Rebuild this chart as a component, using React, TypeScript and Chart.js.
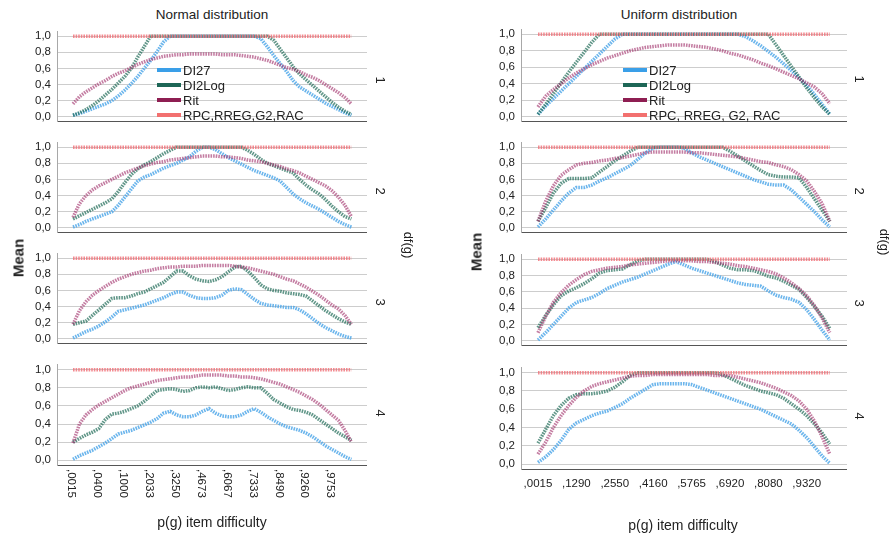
import React, { useEffect, useRef } from "react";
import { Chart, registerables } from "chart.js";

Chart.register(...registerables);

const FONT = "'Liberation Sans', Arial, Helvetica, sans-serif";

// ---- tick labels (p(g) item difficulty) ----
const NORMAL_TICKS = [",0015", ",0400", ",1000", ",2033", ",3250", ",4673", ",6067", ",7333", ",8490", ",9260", ",9753"];
const NORMAL_TICK_STEP = 4;
const UNIFORM_TICKS = [",0015", ",1290", ",2550", ",4160", ",5765", ",6920", ",8080", ",9320"];
const UNIFORM_TICK_STEP = 5;
const Y_TICKS = [0, 0.2, 0.4, 0.6, 0.8, 1.0];
const DF_LABELS = ["1", "2", "3", "4"];

// ---- Normal distribution, mean per item difficulty ----
const N_RPC = [1, 1, 1, 1, 1, 1, 1, 1, 1, 1, 1, 1, 1, 1, 1, 1, 1, 1, 1, 1, 1, 1, 1, 1, 1, 1, 1, 1, 1, 1, 1, 1, 1, 1, 1, 1, 1, 1, 1, 1, 1, 1, 1, 1];

const N1_DI27 = [0.02, 0.04, 0.07, 0.10, 0.13, 0.16, 0.20, 0.26, 0.33, 0.41, 0.50, 0.60, 0.70, 0.81, 0.93, 1.00, 1.00, 1.00, 1.00, 1.00, 1.00, 1.00, 1.00, 1.00, 1.00, 1.00, 1.00, 1.00, 1.00, 0.97, 0.87, 0.76, 0.66, 0.56, 0.45, 0.37, 0.32, 0.27, 0.22, 0.17, 0.13, 0.09, 0.05, 0.02];
const N1_DI2LOG = [0.02, 0.05, 0.09, 0.14, 0.20, 0.27, 0.34, 0.42, 0.50, 0.60, 0.74, 0.87, 1.00, 1.00, 1.00, 1.00, 1.00, 1.00, 1.00, 1.00, 1.00, 1.00, 1.00, 1.00, 1.00, 1.00, 1.00, 1.00, 1.00, 1.00, 1.00, 0.95, 0.84, 0.73, 0.62, 0.53, 0.46, 0.39, 0.32, 0.25, 0.18, 0.12, 0.07, 0.03];
const N1_RIT = [0.16, 0.25, 0.31, 0.36, 0.41, 0.45, 0.50, 0.54, 0.57, 0.61, 0.65, 0.68, 0.71, 0.73, 0.75, 0.76, 0.77, 0.77, 0.78, 0.78, 0.78, 0.78, 0.78, 0.77, 0.77, 0.77, 0.76, 0.75, 0.74, 0.72, 0.70, 0.67, 0.64, 0.61, 0.59, 0.56, 0.52, 0.49, 0.45, 0.40, 0.35, 0.30, 0.24, 0.16];

const N2_DI27 = [0.01, 0.04, 0.08, 0.11, 0.14, 0.17, 0.20, 0.28, 0.38, 0.48, 0.58, 0.63, 0.66, 0.70, 0.74, 0.77, 0.80, 0.84, 0.88, 0.95, 1.00, 1.00, 0.97, 0.92, 0.87, 0.83, 0.79, 0.75, 0.71, 0.68, 0.65, 0.62, 0.58, 0.50, 0.42, 0.36, 0.31, 0.27, 0.23, 0.18, 0.13, 0.08, 0.04, 0.01];
const N2_DI2LOG = [0.11, 0.15, 0.19, 0.23, 0.27, 0.31, 0.36, 0.45, 0.56, 0.66, 0.73, 0.78, 0.82, 0.87, 0.92, 0.96, 1.00, 1.00, 1.00, 1.00, 1.00, 1.00, 1.00, 1.00, 1.00, 1.00, 1.00, 0.96, 0.91, 0.85, 0.80, 0.77, 0.74, 0.71, 0.68, 0.60, 0.53, 0.47, 0.42, 0.35, 0.27, 0.20, 0.14, 0.11];
const N2_RIT = [0.13, 0.30, 0.40, 0.47, 0.52, 0.56, 0.60, 0.64, 0.68, 0.71, 0.74, 0.77, 0.79, 0.81, 0.82, 0.84, 0.85, 0.86, 0.87, 0.88, 0.89, 0.89, 0.89, 0.88, 0.88, 0.87, 0.86, 0.84, 0.83, 0.82, 0.80, 0.78, 0.76, 0.73, 0.71, 0.68, 0.64, 0.60, 0.56, 0.52, 0.46, 0.38, 0.28, 0.14];

const N3_DI27 = [0.01, 0.05, 0.09, 0.12, 0.16, 0.21, 0.27, 0.34, 0.36, 0.38, 0.40, 0.42, 0.45, 0.48, 0.51, 0.55, 0.58, 0.58, 0.54, 0.51, 0.50, 0.50, 0.51, 0.54, 0.60, 0.62, 0.61, 0.55, 0.49, 0.44, 0.42, 0.41, 0.40, 0.39, 0.39, 0.36, 0.31, 0.25, 0.19, 0.14, 0.10, 0.06, 0.03, 0.01];
const N3_DI2LOG = [0.18, 0.20, 0.22, 0.29, 0.36, 0.43, 0.50, 0.51, 0.51, 0.53, 0.56, 0.58, 0.62, 0.66, 0.70, 0.77, 0.84, 0.84, 0.78, 0.74, 0.72, 0.71, 0.73, 0.77, 0.83, 0.89, 0.90, 0.84, 0.76, 0.67, 0.62, 0.60, 0.59, 0.57, 0.56, 0.55, 0.53, 0.47, 0.41, 0.35, 0.30, 0.25, 0.21, 0.18];
const N3_RIT = [0.18, 0.35, 0.46, 0.54, 0.60, 0.65, 0.70, 0.74, 0.77, 0.80, 0.82, 0.84, 0.85, 0.87, 0.88, 0.89, 0.89, 0.90, 0.90, 0.90, 0.91, 0.91, 0.91, 0.91, 0.91, 0.90, 0.89, 0.88, 0.86, 0.84, 0.82, 0.80, 0.77, 0.74, 0.72, 0.68, 0.64, 0.59, 0.54, 0.48, 0.42, 0.37, 0.29, 0.18];

const N4_DI27 = [0.01, 0.05, 0.08, 0.11, 0.15, 0.19, 0.24, 0.29, 0.31, 0.33, 0.36, 0.39, 0.42, 0.46, 0.52, 0.54, 0.50, 0.48, 0.48, 0.50, 0.54, 0.57, 0.52, 0.49, 0.48, 0.48, 0.50, 0.54, 0.57, 0.53, 0.48, 0.44, 0.40, 0.37, 0.35, 0.33, 0.30, 0.26, 0.21, 0.16, 0.12, 0.08, 0.04, 0.01];
const N4_DI2LOG = [0.20, 0.24, 0.28, 0.31, 0.35, 0.45, 0.51, 0.52, 0.54, 0.57, 0.60, 0.65, 0.71, 0.77, 0.78, 0.79, 0.78, 0.76, 0.77, 0.80, 0.81, 0.80, 0.81, 0.79, 0.77, 0.78, 0.80, 0.81, 0.80, 0.80, 0.74, 0.67, 0.63, 0.59, 0.56, 0.55, 0.53, 0.50, 0.45, 0.40, 0.35, 0.30, 0.26, 0.22];
const N4_RIT = [0.19, 0.40, 0.50, 0.56, 0.61, 0.65, 0.69, 0.73, 0.77, 0.80, 0.82, 0.84, 0.86, 0.88, 0.89, 0.90, 0.91, 0.92, 0.92, 0.93, 0.94, 0.94, 0.94, 0.94, 0.93, 0.93, 0.92, 0.92, 0.91, 0.90, 0.88, 0.86, 0.84, 0.81, 0.78, 0.75, 0.71, 0.67, 0.62, 0.56, 0.50, 0.44, 0.33, 0.20];

// ---- Uniform distribution, mean per item difficulty ----
const U_RPC = [1, 1, 1, 1, 1, 1, 1, 1, 1, 1, 1, 1, 1, 1, 1, 1, 1, 1, 1, 1, 1, 1, 1, 1, 1, 1, 1, 1, 1, 1, 1, 1, 1, 1, 1, 1, 1, 1, 1];

const U1_DI27 = [0.03, 0.13, 0.22, 0.31, 0.40, 0.49, 0.58, 0.67, 0.76, 0.85, 0.94, 1.00, 1.00, 1.00, 1.00, 1.00, 1.00, 1.00, 1.00, 1.00, 1.00, 1.00, 1.00, 1.00, 1.00, 1.00, 1.00, 0.97, 0.92, 0.86, 0.79, 0.72, 0.64, 0.56, 0.47, 0.38, 0.27, 0.15, 0.03];
const U1_DI2LOG = [0.03, 0.15, 0.28, 0.41, 0.54, 0.66, 0.78, 0.90, 1.00, 1.00, 1.00, 1.00, 1.00, 1.00, 1.00, 1.00, 1.00, 1.00, 1.00, 1.00, 1.00, 1.00, 1.00, 1.00, 1.00, 1.00, 1.00, 1.00, 1.00, 1.00, 1.00, 0.87, 0.74, 0.61, 0.48, 0.35, 0.23, 0.12, 0.03];
const U1_RIT = [0.12, 0.25, 0.33, 0.40, 0.47, 0.53, 0.58, 0.63, 0.67, 0.71, 0.74, 0.77, 0.80, 0.82, 0.84, 0.85, 0.86, 0.87, 0.87, 0.87, 0.86, 0.85, 0.84, 0.82, 0.80, 0.77, 0.75, 0.72, 0.69, 0.65, 0.62, 0.58, 0.54, 0.50, 0.46, 0.41, 0.36, 0.28, 0.16];

const U2_DI27 = [0.01, 0.11, 0.22, 0.33, 0.43, 0.50, 0.50, 0.53, 0.58, 0.62, 0.67, 0.72, 0.77, 0.85, 0.93, 0.99, 1.00, 1.00, 1.00, 0.99, 0.93, 0.88, 0.84, 0.80, 0.76, 0.72, 0.68, 0.64, 0.60, 0.57, 0.54, 0.53, 0.53, 0.47, 0.38, 0.29, 0.20, 0.10, 0.01];
const U2_DI2LOG = [0.08, 0.25, 0.43, 0.55, 0.61, 0.61, 0.61, 0.62, 0.69, 0.76, 0.83, 0.89, 0.95, 1.00, 1.00, 1.00, 1.00, 1.00, 1.00, 1.00, 1.00, 1.00, 1.00, 1.00, 1.00, 0.95, 0.89, 0.83, 0.77, 0.71, 0.66, 0.64, 0.63, 0.63, 0.62, 0.50, 0.36, 0.22, 0.08];
const U2_RIT = [0.08, 0.33, 0.52, 0.65, 0.72, 0.78, 0.80, 0.81, 0.83, 0.84, 0.86, 0.87, 0.89, 0.91, 0.93, 0.94, 0.94, 0.94, 0.94, 0.94, 0.93, 0.93, 0.92, 0.91, 0.90, 0.89, 0.88, 0.86, 0.84, 0.82, 0.81, 0.78, 0.76, 0.72, 0.66, 0.58, 0.45, 0.30, 0.08];

const U3_DI27 = [0.01, 0.10, 0.20, 0.30, 0.40, 0.47, 0.50, 0.53, 0.58, 0.64, 0.68, 0.72, 0.75, 0.78, 0.82, 0.86, 0.90, 0.94, 0.97, 0.93, 0.89, 0.86, 0.83, 0.80, 0.77, 0.74, 0.71, 0.69, 0.68, 0.67, 0.61, 0.56, 0.53, 0.51, 0.47, 0.38, 0.26, 0.13, 0.01];
const U3_DI2LOG = [0.16, 0.31, 0.44, 0.55, 0.61, 0.65, 0.70, 0.76, 0.83, 0.86, 0.87, 0.88, 0.93, 0.98, 1.00, 1.00, 1.00, 1.00, 1.00, 1.00, 1.00, 1.00, 1.00, 0.97, 0.93, 0.89, 0.87, 0.87, 0.86, 0.83, 0.79, 0.77, 0.73, 0.68, 0.63, 0.53, 0.42, 0.30, 0.15];
const U3_RIT = [0.10, 0.30, 0.47, 0.59, 0.68, 0.75, 0.81, 0.85, 0.87, 0.89, 0.90, 0.91, 0.93, 0.94, 0.95, 0.96, 0.97, 0.98, 0.98, 0.98, 0.98, 0.97, 0.97, 0.96, 0.95, 0.94, 0.92, 0.91, 0.89, 0.87, 0.85, 0.82, 0.77, 0.71, 0.64, 0.55, 0.43, 0.28, 0.10];

const U4_DI27 = [0.02, 0.08, 0.16, 0.26, 0.38, 0.45, 0.49, 0.53, 0.56, 0.58, 0.62, 0.66, 0.72, 0.77, 0.82, 0.87, 0.88, 0.88, 0.88, 0.88, 0.87, 0.84, 0.81, 0.78, 0.75, 0.72, 0.69, 0.66, 0.63, 0.60, 0.56, 0.52, 0.48, 0.44, 0.37, 0.29, 0.19, 0.09, 0.01];
const U4_DI2LOG = [0.23, 0.38, 0.53, 0.64, 0.72, 0.76, 0.77, 0.77, 0.78, 0.80, 0.84, 0.90, 0.97, 1.00, 1.00, 1.00, 1.00, 1.00, 1.00, 1.00, 1.00, 1.00, 1.00, 1.00, 0.98, 0.94, 0.90, 0.86, 0.83, 0.80, 0.78, 0.76, 0.72, 0.66, 0.60, 0.53, 0.44, 0.34, 0.22];
const U4_RIT = [0.11, 0.24, 0.40, 0.53, 0.64, 0.73, 0.80, 0.85, 0.88, 0.90, 0.92, 0.94, 0.96, 0.97, 0.97, 0.98, 0.98, 0.98, 0.98, 0.98, 0.98, 0.98, 0.98, 0.97, 0.97, 0.97, 0.95, 0.93, 0.91, 0.89, 0.86, 0.83, 0.79, 0.75, 0.69, 0.60, 0.47, 0.30, 0.11];

// ---- series appearance ----
const SERIES = [
  { key: "rpc", label: "RPC,RREG,G2,RAC", line: "rgba(240,110,118,0.8)", swatch: "#f2706f" },
  { key: "rit", label: "Rit", line: "rgba(160,45,105,0.62)", swatch: "#8e1e52" },
  { key: "di2log", label: "DI2Log", line: "rgba(35,110,90,0.72)", swatch: "#1d6656" },
  { key: "di27", label: "DI27", line: "rgba(75,165,232,0.82)", swatch: "#3a9fe8" },
];

type Series = { rpc: number[]; rit: number[]; di2log: number[]; di27: number[] };

type SubPlotProps = {
  left: number;
  width: number;
  axisWidth: number;
  oneY: number;
  zeroY: number;
  xMin: number;
  xMax: number;
  series: Series;
  bottomLabels?: { labels: string[]; step: number; rotate: boolean };
};

const PAD_TOP = 8;

function SubPlot(p: SubPlotProps) {
  const ref = useRef<HTMLCanvasElement>(null);
  const span = p.zeroY - p.oneY;
  const areaTop = p.oneY - 5;
  const areaBottom = p.zeroY + 5;
  const padBottom = p.bottomLabels ? 48 : 2;
  const height = PAD_TOP + (areaBottom - areaTop) + padBottom;
  const top = areaTop - PAD_TOP;

  useEffect(() => {
    const labelPlugin = {
      id: "bottomTickLabels",
      afterDraw(chart: any) {
        const bl = p.bottomLabels;
        if (!bl) return;
        const xs = chart.scales.x;
        const ctx = chart.ctx as CanvasRenderingContext2D;
        const base = chart.chartArea.bottom;
        ctx.save();
        ctx.fillStyle = "#222";
        ctx.font = `11.5px ${FONT}`;
        bl.labels.forEach((lab, k) => {
          const x = xs.getPixelForValue(k * bl.step);
          if (bl.rotate) {
            ctx.save();
            ctx.translate(x - 1.5, base + 4);
            ctx.rotate(Math.PI / 2);
            ctx.textAlign = "left";
            ctx.textBaseline = "middle";
            ctx.fillText(lab, 0, 0);
            ctx.restore();
          } else {
            ctx.textAlign = "center";
            ctx.textBaseline = "middle";
            ctx.fillText(lab, x, base + 15);
          }
        });
        ctx.restore();
      },
    };

    const datasets = SERIES.map((s) => ({
      label: s.label,
      data: (p.series as any)[s.key].map((v: number, i: number) => ({ x: i, y: v })),
      borderColor: s.line,
      backgroundColor: s.line,
      borderWidth: 3.5,
      borderDash: [1.6, 1],
      borderCapStyle: "butt" as const,
      pointRadius: 0,
      fill: false,
      tension: 0,
    }));

    const chart = new Chart(ref.current!, {
      type: "line",
      data: { datasets },
      options: {
        responsive: false,
        animation: false,
        events: [],
        layout: { padding: { top: PAD_TOP, bottom: padBottom, left: 0, right: 0 } },
        plugins: { legend: { display: false }, tooltip: { enabled: false } },
        scales: {
          x: {
            type: "linear",
            min: p.xMin,
            max: p.xMax,
            grid: { display: false, drawTicks: false },
            border: { display: true, color: "#555", width: 1 },
            ticks: { display: false },
            afterFit: (s: any) => {
              s.height = 0;
            },
          },
          y: {
            type: "linear",
            min: -5 / span,
            max: 1 + 5 / span,
            grid: { color: "#cdcdcd", lineWidth: 1, drawTicks: false },
            border: { display: true, color: "#a8a8a8", width: 1 },
            ticks: {
              padding: 6,
              color: "#222",
              font: { family: FONT, size: 11.5 },
              callback: (v: any) => Number(v).toFixed(1).replace(".", ","),
            },
            afterBuildTicks: (s: any) => {
              s.ticks = Y_TICKS.map((v) => ({ value: v }));
            },
            afterFit: (s: any) => {
              s.width = p.axisWidth;
            },
          },
        },
      },
      plugins: [labelPlugin],
    });
    return () => chart.destroy();
  }, []);

  return (
    <canvas
      ref={ref}
      width={p.width}
      height={height}
      style={{ position: "absolute", left: p.left, top, width: p.width, height }}
    />
  );
}

type TextProps = { x: number; y: number; text: string; size: number; rotate?: number; bold?: boolean };

function Label({ x, y, text, size, rotate = 0, bold = false }: TextProps) {
  return (
    <div
      style={{
        position: "absolute",
        left: x,
        top: y,
        transform: `translate(-50%, -50%) rotate(${rotate}deg)`,
        font: `${bold ? "bold " : ""}${size}px ${FONT}`,
        color: "#222",
        whiteSpace: "nowrap",
        lineHeight: 1,
      }}
    >
      {text}
    </div>
  );
}

function Legend({ x, y, names }: { x: number; y: number; names: string[] }) {
  const order = [3, 2, 1, 0];
  return (
    <>
      {order.map((si, row) => (
        <div
          key={si}
          style={{ position: "absolute", left: x, top: y + row * 15 - 8, height: 16, display: "flex", alignItems: "center" }}
        >
          <div style={{ width: 24, height: 4, background: SERIES[si].swatch, marginRight: 2 }} />
          <span style={{ font: `13px ${FONT}`, color: "#222", whiteSpace: "nowrap" }}>{names[row]}</span>
        </div>
      ))}
    </>
  );
}

const NORMAL_SERIES: Series[] = [
  { rpc: N_RPC, rit: N1_RIT, di2log: N1_DI2LOG, di27: N1_DI27 },
  { rpc: N_RPC, rit: N2_RIT, di2log: N2_DI2LOG, di27: N2_DI27 },
  { rpc: N_RPC, rit: N3_RIT, di2log: N3_DI2LOG, di27: N3_DI27 },
  { rpc: N_RPC, rit: N4_RIT, di2log: N4_DI2LOG, di27: N4_DI27 },
];
const UNIFORM_SERIES: Series[] = [
  { rpc: U_RPC, rit: U1_RIT, di2log: U1_DI2LOG, di27: U1_DI27 },
  { rpc: U_RPC, rit: U2_RIT, di2log: U2_DI2LOG, di27: U2_DI27 },
  { rpc: U_RPC, rit: U3_RIT, di2log: U3_DI2LOG, di27: U3_DI27 },
  { rpc: U_RPC, rit: U4_RIT, di2log: U4_DI2LOG, di27: U4_DI27 },
];

// vertical placement of the 1,0 and 0,0 grid lines in each facet row
const LEFT_ONE = [32, 143, 254, 365];
const LEFT_ZERO = [127, 238, 349, 460];
const RIGHT_ONE = [30, 143, 255, 368];
const RIGHT_ZERO = [127, 238, 351, 464];

export default function App() {
  return (
    <div style={{ position: "absolute", left: 0, top: 0, width: 895, height: 536, background: "#fff", overflow: "hidden" }}>
      <Label x={212} y={15} text="Normal distribution" size={13.5} />
      <Label x={679} y={15} text="Uniform distribution" size={13.5} />

      {NORMAL_SERIES.map((s, i) => (
        <SubPlot
          key={`n${i}`}
          left={0}
          width={367}
          axisWidth={57}
          oneY={LEFT_ONE[i]}
          zeroY={LEFT_ZERO[i]}
          xMin={-2.47}
          xMax={45.41}
          series={s}
          bottomLabels={i === 3 ? { labels: NORMAL_TICKS, step: NORMAL_TICK_STEP, rotate: true } : undefined}
        />
      ))}
      {UNIFORM_SERIES.map((s, i) => (
        <SubPlot
          key={`u${i}`}
          left={464}
          width={383}
          axisWidth={57}
          oneY={RIGHT_ONE[i]}
          zeroY={RIGHT_ZERO[i]}
          xMin={-2.21}
          xMax={40.24}
          series={s}
          bottomLabels={i === 3 ? { labels: UNIFORM_TICKS, step: UNIFORM_TICK_STEP, rotate: false } : undefined}
        />
      ))}

      <Legend x={157} y={70} names={["DI27", "DI2Log", "Rit", "RPC,RREG,G2,RAC"]} />
      <Legend x={623} y={70} names={["DI27", "DI2Log", "Rit", "RPC, RREG, G2, RAC"]} />

      {DF_LABELS.map((d, i) => (
        <Label key={`ld${i}`} x={380} y={(LEFT_ONE[i] + LEFT_ZERO[i]) / 2} text={d} size={13} rotate={90} />
      ))}
      {DF_LABELS.map((d, i) => (
        <Label key={`rd${i}`} x={859} y={(RIGHT_ONE[i] + RIGHT_ZERO[i]) / 2} text={d} size={13} rotate={90} />
      ))}
      <Label x={408} y={245} text="df(g)" size={13} rotate={90} />
      <Label x={884} y={242} text="df(g)" size={13} rotate={90} />

      <Label x={18} y={258} text="Mean" size={15} rotate={-90} bold />
      <Label x={476} y={252} text="Mean" size={15} rotate={-90} bold />

      <Label x={212} y={522} text="p(g) item difficulty" size={14} />
      <Label x={683} y={525} text="p(g) item difficulty" size={14} />
    </div>
  );
}
